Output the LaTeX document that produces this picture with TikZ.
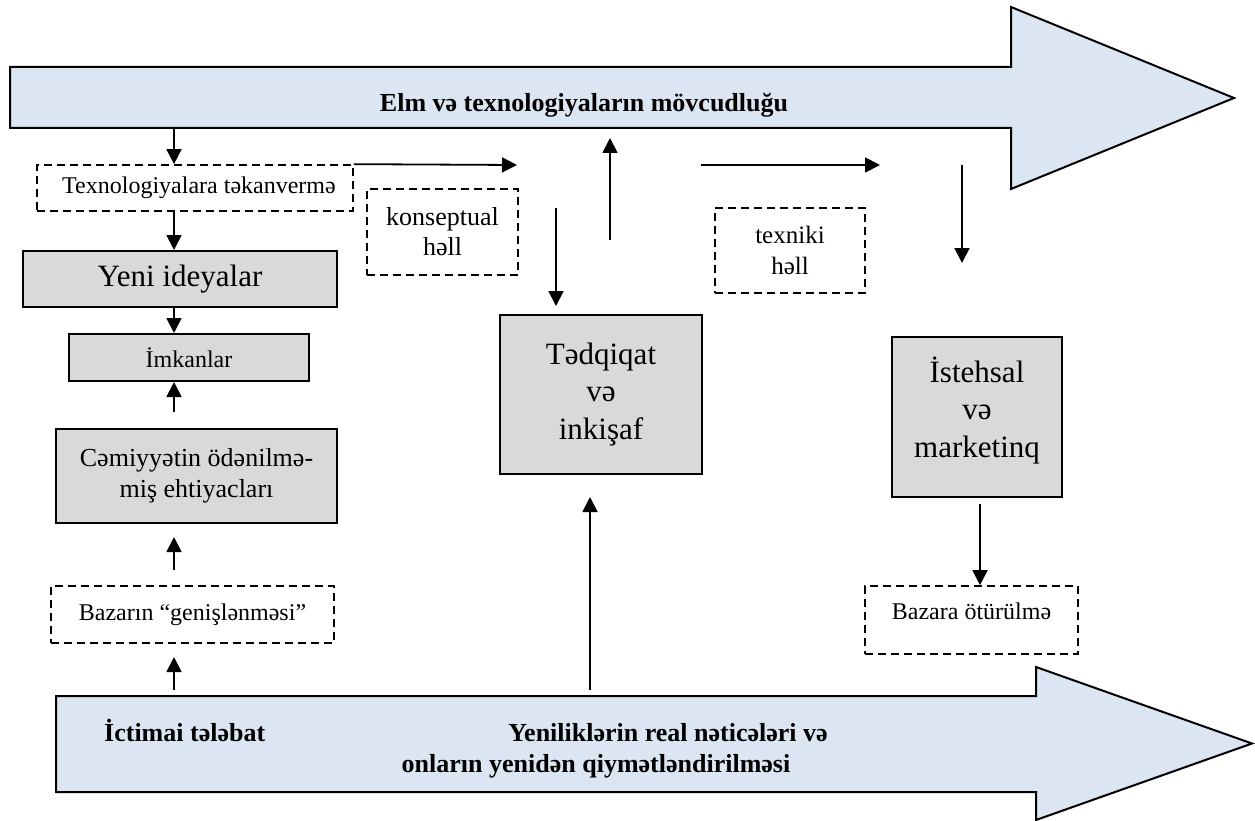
\documentclass[tikz,border=0pt]{standalone}
\usepackage{fontspec}
\setmainfont{Liberation Serif}
\usetikzlibrary{arrows.meta}
\definecolor{bigblue}{HTML}{DCE6F2}
\definecolor{boxgray}{HTML}{D9D9D9}
\begin{document}
\begin{tikzpicture}[x=1pt,y=-1pt,
  conn/.style={line width=1.8pt,-{Triangle[width=15pt,length=15pt]}},
  graybox/.style={draw,line width=2pt,fill=boxgray,inner sep=0pt,align=center,font=\fontsize{26}{31}\selectfont},
  dashbox/.style={draw,line width=1.7pt,dash pattern=on 8pt off 5pt,inner sep=0pt,align=center,font=\fontsize{24}{30}\selectfont},
  bigarr/.style={draw,line width=2pt,fill=bigblue},
  boldtxt/.style={inner sep=0pt,font=\bfseries\fontsize{26}{30}\selectfont}
]
\useasboundingbox (0,0) rectangle (1255,821);

% big arrows
\draw[bigarr] (10,67) -- (1011,67) -- (1011,7) -- (1234,98) -- (1011,189) -- (1011,128) -- (10,128) -- cycle;
\node[boldtxt,anchor=base] (toptxt) at (584,112) {Elm və texnologiyaların mövcudluğu};

\draw[bigarr] (56,696) -- (1036,696) -- (1036,667) -- (1252,743.5) -- (1036,820) -- (1036,792) -- (56,792) -- cycle;
\node[boldtxt,anchor=base west] (ictimai) at (104,741) {İctimai tələbat};
\node[boldtxt,anchor=base] (yenilik1) at (668,741) {Yeniliklərin real nəticələri və};
\node[boldtxt,anchor=base] (yenilik2) at (596,772) {onların yenidən qiymətləndirilməsi};

% left column
\node[dashbox,minimum width=316pt,minimum height=46pt] (tech) at (195,188) {\hspace*{8pt}Texnologiyalara təkanvermə};
\node[graybox,minimum width=314pt,minimum height=56pt,font=\fontsize{31}{37}\selectfont] (yeni) at (180,279) {Yeni ideyalar};
\node[graybox,minimum width=240pt,minimum height=47pt,font=\fontsize{24}{30}\selectfont] (imk) at (189,357.5) {İmkanlar};
\node[graybox,minimum width=281pt,minimum height=94pt] (cem) at (196.5,476) {Cəmiyyətin ödənilmə-\\miş ehtiyacları};
\node[dashbox,minimum width=283pt,minimum height=57pt] (bazarin) at (192.5,614.5) {Bazarın “genişlənməsi”};

% middle
\node[dashbox,minimum width=151pt,minimum height=86pt,font=\fontsize{26}{30}\selectfont] (kons) at (442.5,232) {konseptual\\həll};
\node[graybox,minimum width=202pt,minimum height=159pt,font=\fontsize{31}{37.5}\selectfont] (tedq) at (601,394.5) {Tədqiqat\\və\\inkişaf};
\node[dashbox,minimum width=150pt,minimum height=85pt,font=\fontsize{25}{31}\selectfont] (texn) at (790,250.5) {texniki\\həll};

% right
\node[graybox,minimum width=170pt,minimum height=160pt,font=\fontsize{31}{37.5}\selectfont] (ist) at (977,417) {İstehsal\\və\\marketinq\rule[-20pt]{0pt}{1pt}};
\node[dashbox,minimum width=213pt,minimum height=68pt] (bazara) at (971.5,620) {Bazara ötürülmə\rule[-18pt]{0pt}{1pt}};

% connectors
\coordinate (c1) at (174,128);
\draw[conn] (c1) -- (c1 |- tech.north);
\draw[conn] (c1 |- tech.south) -- (c1 |- yeni.north);
\draw[conn] (c1 |- yeni.south) -- (c1 |- imk.north);
\coordinate (c4) at (174,412);
\draw[conn] (c4) -- (c4 |- imk.south);
\coordinate (c5s) at (174,570);
\coordinate (c5e) at (174,537);
\draw[conn] (c5s) -- (c5e);
\coordinate (c6s) at (174,690);
\coordinate (c6e) at (174,657);
\draw[conn] (c6s) -- (c6e);

\coordinate (c7e) at (517,165);
\draw[conn] (tech.north east) -- (c7e);
\coordinate (c8s) at (556,208);
\coordinate (c8e) at (556,306);
\draw[conn] (c8s) -- (c8e);
\coordinate (c9s) at (610,240);
\coordinate (c9e) at (610,138);
\draw[conn] (c9s) -- (c9e);
\coordinate (c10s) at (701,165);
\coordinate (c10e) at (880,165);
\draw[conn] (c10s) -- (c10e);
\coordinate (c11s) at (962,165);
\coordinate (c11e) at (962,263);
\draw[conn] (c11s) -- (c11e);
\coordinate (c12s) at (590,690);
\coordinate (c12e) at (590,497);
\draw[conn] (c12s) -- (c12e);
\coordinate (c13s) at (980,504);
\draw[conn] (c13s) -- (c13s |- bazara.north);
\end{tikzpicture}
\end{document}
